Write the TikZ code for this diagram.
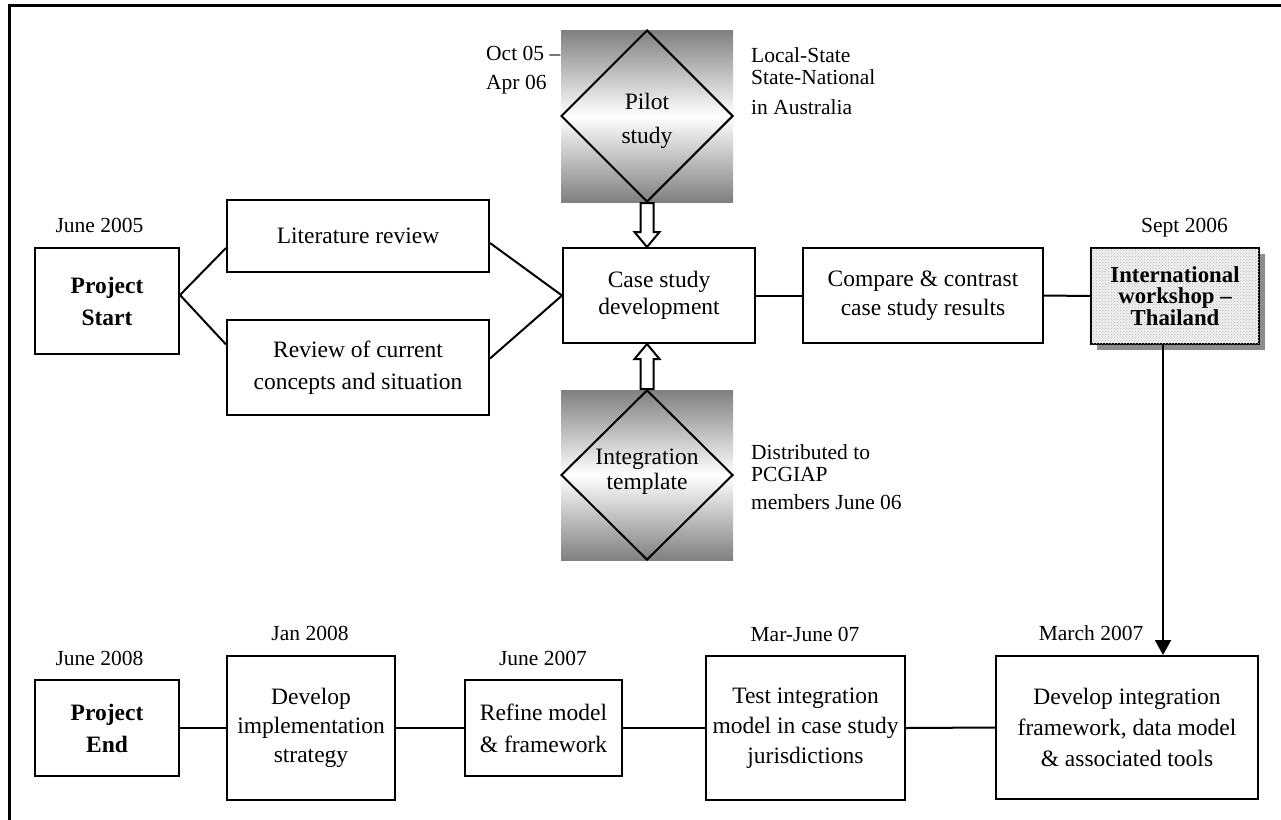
\documentclass[tikz,border=0pt]{standalone}
\usepackage{fontspec}
\setmainfont{Liberation Serif}
\usetikzlibrary{arrows.meta,calc,patterns,shadows,shapes.geometric}
\begin{document}
\begin{tikzpicture}[x=1pt,y=-1pt,
  box/.style={draw, line width=2pt, fill=white, align=center, inner sep=0pt, font=\fontsize{23.5}{29}\selectfont},
  bbox/.style={box, font=\fontsize{23.5}{32}\selectfont\bfseries},
  lbl/.style={inner sep=0pt, font=\fontsize{21.5}{22}\selectfont},
  dia/.style={diamond, draw, line width=2pt, inner sep=0pt, align=center, minimum width=172pt, minimum height=172pt, font=\fontsize{23.5}{33}\selectfont},
  conn/.style={line width=2pt},
  hollow/.style={draw, line width=2pt, fill=white, line join=miter},
  shadeband/.style={top color=black!50, bottom color=black!50, middle color=white},
]
\useasboundingbox (0,0) rectangle (1281,819);
\fill[white] (0,0) rectangle (1281,819);
\draw[line width=3pt] (9,830) -- (9,5.5) -- (1300,5.5);

% shaded backgrounds of the two diamonds
\shade[shadeband] (561,30) rectangle (733,202);
\shade[shadeband] (561,390) rectangle (733,560);
\node[dia] (pilot) at (647,116) {};
\node[inner sep=0pt, align=center, font=\fontsize{23.5}{34}\selectfont] (pilott) at (647,121) {Pilot\\study};
\node[dia, minimum height=170pt] (integ) at (647,475) {};
\node[inner sep=0pt, align=center, font=\fontsize{23.5}{25}\selectfont] (integt) at (647,472) {Integration\\template};

% top row
\node[bbox, minimum width=144pt, minimum height=106pt] (start) at (107,301) {Project\\Start};
\node[box, minimum width=262pt, minimum height=72pt] (lit) at (358,236) {Literature review};
\node[box, minimum width=262pt, minimum height=95pt, font=\fontsize{23.5}{32}\selectfont] (rev) at (358,367.5) {Review of current\\concepts and situation};
\node[box, minimum width=192pt, minimum height=95pt, font=\fontsize{23.5}{27}\selectfont] (case) at (659,295.5) {Case study\\development};
\node[box, minimum width=240pt, minimum height=95pt] (comp) at (923,295.5) {Compare \& contrast\\case study results};
\node[box, minimum width=168pt, minimum height=96pt, font=\fontsize{22.8}{21.5}\selectfont\bfseries, fill=gray!12,
      postaction={pattern=crosshatch dots, pattern color=gray!55},
      drop shadow={shadow xshift=6pt, shadow yshift=-6pt, fill=black!45, opacity=1}] (intl) at (1175,296) {International\\workshop –\\Thailand};

% bottom row
\node[bbox, minimum width=144pt, minimum height=96pt] (end) at (107,728) {Project\\End};
\node[box, minimum width=168pt, minimum height=144pt] (impl) at (311,728) {Develop\\implementation\\strategy};
\node[box, minimum width=157pt, minimum height=96pt, font=\fontsize{23.5}{32}\selectfont] (ref) at (543.5,728) {Refine model\\\& framework};
\node[box, minimum width=199pt, minimum height=144pt, font=\fontsize{23.5}{30}\selectfont] (test) at (805.5,728) {Test integration\\model in case study\\jurisdictions};
\node[box, minimum width=262pt, minimum height=143pt, font=\fontsize{23.5}{31}\selectfont] (dev) at (1127,727.5) {Develop integration\\framework, data model\\\& associated tools};

% labels
\node[lbl] (l1) at (99.5,225) {June 2005};
\node[lbl] (l2) at (1184.5,228) {Sept 2006};
\node[lbl, align=left, anchor=west, font=\fontsize{21.5}{29}\selectfont] (l3) at (486,70) {Oct 05 –\\Apr 06};
\node[lbl, anchor=west] (l4) at (751,55) {Local-State};
\node[lbl, anchor=west] (l5) at (751,77) {State-National};
\node[lbl, anchor=west] (l6) at (751,107) {in Australia};
\node[lbl, anchor=west] (l7) at (751,452) {Distributed to};
\node[lbl, anchor=west] (l8) at (751,474) {PCGIAP};
\node[lbl, anchor=west] (l9) at (751,502) {members June 06};
\node[lbl] (l10) at (99.5,658) {June 2008};
\node[lbl] (l11) at (310,633) {Jan 2008};
\node[lbl] (l12) at (543,658) {June 2007};
\node[lbl] (l13) at (805,634) {Mar-June 07};
\node[lbl] (l14) at (1091,633) {March 2007};

% connectors
\coordinate (sc) at ($(start.east)+(0,-6)$);
\draw[conn] (sc) -- ($(lit.west)+(0,12)$);
\draw[conn] (sc) -- ($(rev.west)+(0,-23)$);
\draw[conn] ($(lit.east)+(0,7)$) -- (case.west);
\draw[conn] ($(rev.east)+(0,-9)$) -- (case.west);
\draw[conn] (case.east) -- (comp.west);
\draw[conn] (comp.east) -- (intl.west);
\coordinate (ax) at (1163,0);
\draw[conn, -{Triangle[width=16pt,length=15pt]}] (intl.south -| ax) -- (dev.north -| ax);
\draw[conn] (end.east) -- (impl.west);
\draw[conn] (impl.east) -- (ref.west);
\draw[conn] (ref.east) -- (test.west);
\draw[conn] (test.east) -- (dev.west);

% hollow block arrows
\coordinate (pa) at (pilot.south);
\coordinate (pb) at (case.north -| pilot.south);
\draw[hollow] ($(pa)+(-6.5,0)$) -- ($(pb)+(-6.5,-15)$) -- ($(pb)+(-12.5,-15)$) -- (pb) -- ($(pb)+(12.5,-15)$) -- ($(pb)+(6.5,-15)$) -- ($(pa)+(6.5,0)$) -- cycle;
\coordinate (ia) at (integ.north);
\coordinate (ib) at (case.south -| integ.north);
\draw[hollow] ($(ia)+(-6.5,0)$) -- ($(ib)+(-6.5,15)$) -- ($(ib)+(-12.5,15)$) -- (ib) -- ($(ib)+(12.5,15)$) -- ($(ib)+(6.5,15)$) -- ($(ia)+(6.5,0)$) -- cycle;
\end{tikzpicture}
\end{document}
